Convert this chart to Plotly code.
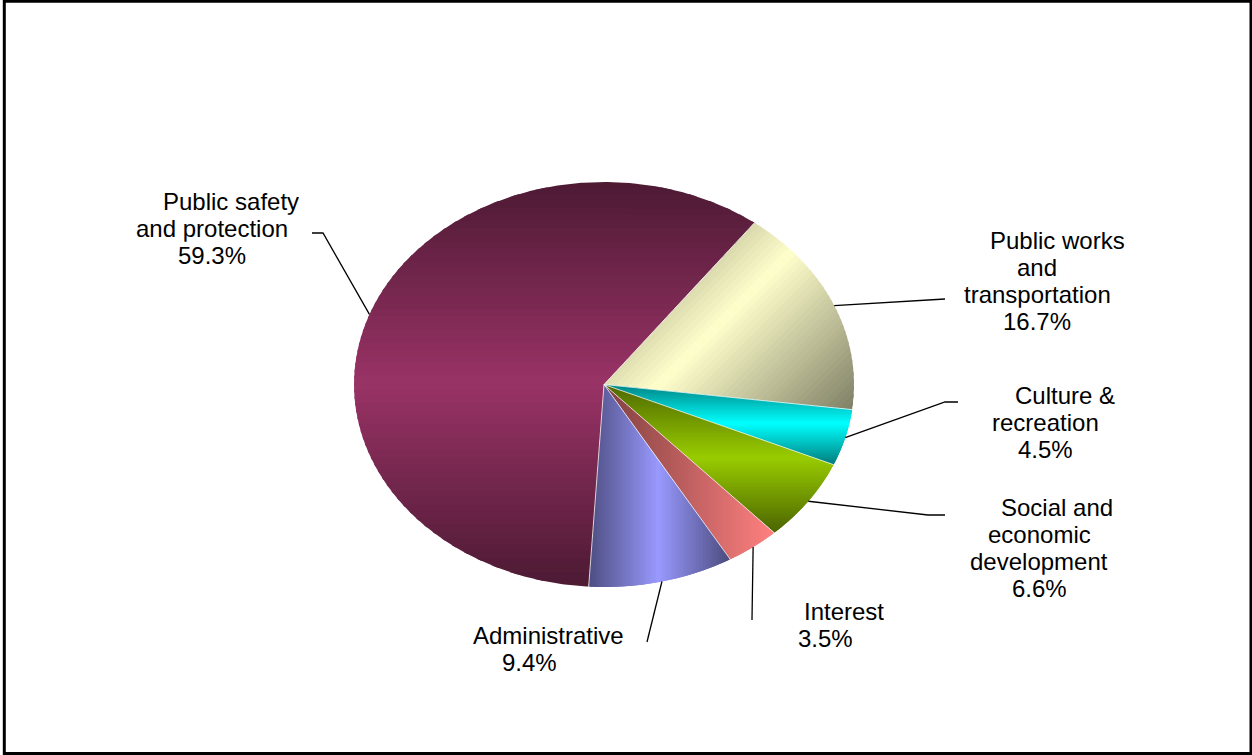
import numpy as np
import plotly.graph_objects as go

# ---- data ----
categories = [
    "Public works and transportation",
    "Culture & recreation",
    "Social and economic development",
    "Interest",
    "Administrative",
    "Public safety and protection",
]
values = [16.7, 4.5, 6.6, 3.5, 9.4, 59.3]
label_lines = [
    ["Public works", "and", "transportation"],
    ["Culture &", "recreation"],
    ["Social and", "economic", "development"],
    ["Interest"],
    ["Administrative"],
    ["Public safety", "and protection"],
]

# ---- styling ----
base_colors = ["#FFFFCC", "#00FFFF", "#99CC00", "#FF8080", "#9999FF", "#993366"]
shade_styles = ["diag_center", "v_center", "v_center", "h_up", "h_center", "v_center"]

# label placement: x centre of the lower lines, x centre of the first line, y of the first line
label_pos = [
    (1037, 1057, 240),
    (1045, 1065, 395),
    (1039, 1057, 507),
    (825, 844, 611),
    (529, 548, 635),
    (212, 231, 201),
]
LINE_STEP = 27
# leader line bends / end points (after the point on the slice edge)
leader_ends = [
    [(945, 299)],
    [(945, 402), (958, 402)],
    [(928, 515), (945, 515)],
    [(752, 620)],
    [(647, 642)],
    [(323, 233), (312, 233)],
]

W, H = 1252, 755
CX, CY = 604, 384.5
RX, RY = 250, 202.5
START_DEG = 37.0
FONT = "Liberation Sans, Arial, sans-serif"
FONT_SIZE = 24
N_BANDS = 60
OVERLAP = 1.2


def edge_point(theta_deg):
    t = np.radians(theta_deg)
    return CX + RX * np.sin(t), CY - RY * np.cos(t)


def hex_rgb(h):
    h = h.lstrip("#")
    return np.array([int(h[i:i + 2], 16) for i in (0, 2, 4)], dtype=float)


def clip(poly, d, c, keep_ge):
    out = []
    n = len(poly)
    for i in range(n):
        p, q = poly[i], poly[(i + 1) % n]
        fp = p[0] * d[0] + p[1] * d[1] - c
        fq = q[0] * d[0] + q[1] * d[1] - c
        if not keep_ge:
            fp, fq = -fp, -fq
        if fp >= 0:
            out.append(p)
        if (fp >= 0) != (fq >= 0):
            t = fp / (fp - fq)
            out.append((p[0] + t * (q[0] - p[0]), p[1] + t * (q[1] - p[1])))
    return out


fig = go.Figure()

total = sum(values)
angles = [START_DEG]
for v in values:
    angles.append(angles[-1] + v / total * 360.0)

for i, v in enumerate(values):
    a0, a1 = angles[i], angles[i + 1]
    n_arc = max(4, int((a1 - a0) * 2))
    arc = [edge_point(a) for a in np.linspace(a0, a1, n_arc)]
    poly = [(CX, CY)] + arc

    xs = [p[0] for p in poly]
    ys = [p[1] for p in poly]
    style = shade_styles[i]
    if style.startswith("diag"):
        d = (np.sqrt(0.5), np.sqrt(0.5))
    elif style.startswith("v"):
        d = (0.0, 1.0)
    else:
        d = (1.0, 0.0)
    corners = [(x, y) for x in (min(xs), max(xs)) for y in (min(ys), max(ys))]
    proj = [c[0] * d[0] + c[1] * d[1] for c in corners]
    lo, hi = min(proj), max(proj)

    light = hex_rgb(base_colors[i])
    dark = light * 0.5
    edges = np.linspace(lo, hi, N_BANDS + 1)
    for b in range(N_BANDS):
        piece = clip(poly, d, edges[b] - OVERLAP, True)
        if len(piece) < 3:
            continue
        piece = clip(piece, d, edges[b + 1] + OVERLAP, False)
        if len(piece) < 3:
            continue
        t = (b + 0.5) / N_BANDS
        f = abs(2 * t - 1) if style.endswith("center") else 1 - t
        col = light * (1 - f) + dark * f
        c = "rgb(%d,%d,%d)" % tuple(np.round(col).astype(int))
        px = [p[0] for p in piece] + [piece[0][0]]
        py = [p[1] for p in piece] + [piece[0][1]]
        fig.add_trace(go.Scatter(
            x=px, y=py, mode="lines", fill="toself", fillcolor=c,
            line=dict(color=c, width=0), hoverinfo="skip", showlegend=False,
        ))

# thin light separators between slices
for a in angles[:-1]:
    ex, ey = edge_point(a)
    fig.add_trace(go.Scatter(
        x=[CX, ex], y=[CY, ey], mode="lines",
        line=dict(color="rgba(255,255,255,0.75)", width=1),
        hoverinfo="skip", showlegend=False,
    ))

# leader lines and labels
for i, v in enumerate(values):
    mid = (angles[i] + angles[i + 1]) / 2
    sx, sy = edge_point(mid)
    pts = [(sx, sy)] + leader_ends[i]
    fig.add_trace(go.Scatter(
        x=[p[0] for p in pts], y=[p[1] for p in pts], mode="lines",
        line=dict(color="black", width=1.3), hoverinfo="skip", showlegend=False,
    ))
    xc, xfirst, ytop = label_pos[i]
    lines = label_lines[i] + ["%.1f%%" % v]
    for k, txt in enumerate(lines):
        fig.add_annotation(
            x=xfirst if k == 0 else xc, y=ytop + k * LINE_STEP,
            xref="x", yref="y", text=txt, showarrow=False,
            xanchor="center", yanchor="middle", height=26.8, borderpad=0,
            font=dict(family=FONT, size=FONT_SIZE, color="black"),
        )

fig.add_shape(type="rect", xref="x", yref="y", x0=4.3, y0=1.3, x1=1251, y1=753.5,
              line=dict(color="black", width=3))

fig.update_layout(
    width=W, height=H, autosize=False,
    margin=dict(l=0, r=0, t=0, b=0),
    paper_bgcolor="white", plot_bgcolor="white",
    xaxis=dict(range=[0, W], visible=False, fixedrange=True),
    yaxis=dict(range=[H, 0], visible=False, fixedrange=True),
    showlegend=False,
)

fig.write_html("out.html")
